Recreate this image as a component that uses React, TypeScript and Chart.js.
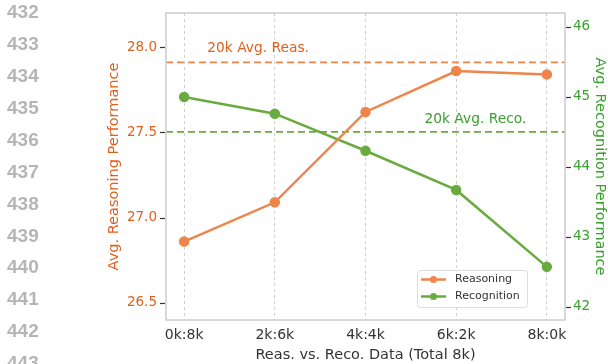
import React, { useEffect, useRef } from "react";
import { Chart, registerables } from "chart.js";
Chart.register(...registerables);

const categories = ["0k:8k", "2k:6k", "4k:4k", "6k:2k", "8k:0k"];
const reasoning = [26.86, 27.09, 27.62, 27.86, 27.84];
const recognition = [45.0, 44.76, 44.23, 43.67, 42.57];
const avgReas = 27.91;
const avgReco = 44.5;
const leftTicks = [26.5, 27.0, 27.5, 28.0];
const rightTicks = [42, 43, 44, 45, 46];
const lineNumbers = ["432", "433", "434", "435", "436", "437", "438", "439", "440", "441", "442", "443"];

const ORANGE = "#ee854a";
const GREEN = "#6aab3f";
const ORANGE_TXT = "#e0601e";
const GREEN_TXT = "#3aa02e";
const FONT = "'DejaVu Sans', sans-serif";

export default function App() {
  const ref = useRef<HTMLCanvasElement | null>(null);
  useEffect(() => {
    const canvas = ref.current!;
    const extras = {
      id: "extras",
      beforeDraw(chart: any) {
        const ctx = chart.ctx;
        ctx.save();
        ctx.fillStyle = "#fff";
        ctx.fillRect(0, 0, chart.width, chart.height);
        ctx.fillStyle = "#b5b5b5";
        ctx.font = "bold 19px 'Liberation Sans', Arial, sans-serif";
        ctx.textBaseline = "middle";
        ctx.textAlign = "left";
        lineNumbers.forEach((t, i) => ctx.fillText(t, 7, 13 + i * 31.9));
        ctx.restore();
      },
      afterDraw(chart: any) {
        const ctx = chart.ctx;
        const a = chart.chartArea;
        const yL = chart.scales.yL;
        const yR = chart.scales.yR;
        const x = chart.scales.x;
        ctx.save();
        ctx.strokeStyle = "#cccccc";
        ctx.lineWidth = 1.5;
        ctx.strokeRect(a.left, a.top, a.right - a.left, a.bottom - a.top);
        // tick marks
        ctx.strokeStyle = "#333";
        ctx.lineWidth = 1.2;
        leftTicks.forEach((v) => {
          const py = Math.round(yL.getPixelForValue(v)) + 0.5;
          ctx.beginPath();
          ctx.moveTo(a.left - 6, py);
          ctx.lineTo(a.left - 1, py);
          ctx.stroke();
        });
        rightTicks.forEach((v) => {
          const py = Math.round(yR.getPixelForValue(v)) + 0.5;
          ctx.beginPath();
          ctx.moveTo(a.right + 1, py);
          ctx.lineTo(a.right + 6, py);
          ctx.stroke();
        });
        ctx.font = "13.8px " + FONT;
        ctx.textBaseline = "middle";
        ctx.textAlign = "left";
        ctx.fillStyle = ORANGE_TXT;
        ctx.fillText("20k Avg. Reas.", x.getPixelForValue(0.255), yL.getPixelForValue(avgReas) - 14);
        ctx.fillStyle = GREEN_TXT;
        ctx.fillText("20k Avg. Reco.", x.getPixelForValue(2.65), yR.getPixelForValue(avgReco) - 12);
        // legend
        const lx = 417, ly = 270, lw = 110, lh = 37;
        ctx.fillStyle = "rgba(255,255,255,0.85)";
        ctx.strokeStyle = "#dddddd";
        ctx.lineWidth = 1;
        ctx.beginPath();
        ctx.roundRect(lx + 0.5, ly + 0.5, lw, lh, 3);
        ctx.fill();
        ctx.stroke();
        const items = [["Reasoning", ORANGE], ["Recognition", GREEN]];
        ctx.font = "11px " + FONT;
        items.forEach(([label, c], i) => {
          const yy = ly + 9.5 + i * 17;
          ctx.strokeStyle = c;
          ctx.lineWidth = 2.5;
          ctx.beginPath();
          ctx.moveTo(lx + 4, yy);
          ctx.lineTo(lx + 29, yy);
          ctx.stroke();
          ctx.fillStyle = c;
          ctx.beginPath();
          ctx.arc(lx + 16.5, yy, 3.5, 0, Math.PI * 2);
          ctx.fill();
          ctx.fillStyle = "#333";
          ctx.fillText(label, lx + 38, yy);
        });
        ctx.restore();
      },
    };
    const chart = new Chart(canvas, {
      type: "line",
      data: {
        datasets: [
          {
            label: "Reasoning",
            data: reasoning.map((v, i) => ({ x: i, y: v })),
            borderColor: ORANGE,
            backgroundColor: ORANGE,
            borderWidth: 2.5,
            pointRadius: 4,
            yAxisID: "yL",
          },
          {
            label: "Recognition",
            data: recognition.map((v, i) => ({ x: i, y: v })),
            borderColor: GREEN,
            backgroundColor: GREEN,
            borderWidth: 2.5,
            pointRadius: 4,
            yAxisID: "yR",
          },
          {
            label: "avgReas",
            data: [{ x: -0.2, y: avgReas }, { x: 4.2, y: avgReas }],
            borderColor: ORANGE,
            borderWidth: 1.8,
            borderDash: [7, 4],
            pointRadius: 0,
            yAxisID: "yL",
          },
          {
            label: "avgReco",
            data: [{ x: -0.2, y: avgReco }, { x: 4.2, y: avgReco }],
            borderColor: GREEN,
            borderWidth: 1.8,
            borderDash: [7, 4],
            pointRadius: 0,
            yAxisID: "yR",
          },
        ],
      },
      options: {
        animation: false,
        responsive: false,
        layout: { padding: { top: 13, left: 106, right: 0, bottom: 0 } },
        plugins: { legend: { display: false }, tooltip: { enabled: false } },
        scales: {
          x: {
            type: "linear",
            min: -0.2,
            max: 4.2,
            afterBuildTicks: (s: any) => {
              s.ticks = categories.map((_, i) => ({ value: i }));
            },
            afterFit: (s: any) => {
              s.height = 44;
            },
            ticks: {
              callback: (v: any) => categories[v as number] ?? "",
              color: "#333",
              font: { family: FONT, size: 14 },
              padding: 7,
              maxRotation: 0,
            },
            grid: {
              color: "#d0d0d0",
              lineWidth: 1,
              drawTicks: false,
            } as any,
            border: { display: false, dash: [3, 3] } as any,
            title: {
              display: true,
              text: "Reas. vs. Reco. Data (Total 8k)",
              color: "#333",
              font: { family: FONT, size: 14.5 },
              padding: { top: 0, bottom: 0 },
            },
          },
          yL: {
            type: "linear",
            position: "left",
            min: 26.4,
            max: 28.2,
            afterBuildTicks: (s: any) => {
              s.ticks = leftTicks.map((v) => ({ value: v }));
            },
            afterFit: (s: any) => {
              s.width = 60;
            },
            ticks: {
              callback: (v: any) => Number(v).toFixed(1),
              color: ORANGE_TXT,
              font: { family: FONT, size: 13.5 },
              padding: 3,
            },
            grid: { drawOnChartArea: false, drawTicks: true, tickLength: 6, tickColor: "rgba(0,0,0,0)" },
            border: { display: false },
            title: {
              display: true,
              text: "Avg. Reasoning Performance",
              color: ORANGE_TXT,
              font: { family: FONT, size: 14.5 },
              padding: { top: 0, bottom: 0 },
            },
          },
          yR: {
            type: "linear",
            position: "right",
            min: 41.81,
            max: 46.2,
            afterBuildTicks: (s: any) => {
              s.ticks = rightTicks.map((v) => ({ value: v }));
            },
            afterFit: (s: any) => {
              s.width = 43;
            },
            ticks: {
              callback: (v: any) => String(v),
              color: GREEN_TXT,
              font: { family: FONT, size: 13.5 },
              padding: 2,
            },
            grid: { drawOnChartArea: false, drawTicks: true, tickLength: 6, tickColor: "rgba(0,0,0,0)" },
            border: { display: false },
            title: {
              display: true,
              text: "Avg. Recognition Performance",
              color: GREEN_TXT,
              font: { family: FONT, size: 14.5 },
              padding: { top: 0, bottom: 0 },
            },
          },
        },
      },
      plugins: [extras],
    } as any);
    return () => chart.destroy();
  }, []);
  return (
    <div style={{ position: "fixed", left: 0, top: 0, width: 608, height: 364, background: "#fff" }}>
      <canvas ref={ref} width={608} height={364} style={{ width: 608, height: 364, display: "block" }} />
    </div>
  );
}
